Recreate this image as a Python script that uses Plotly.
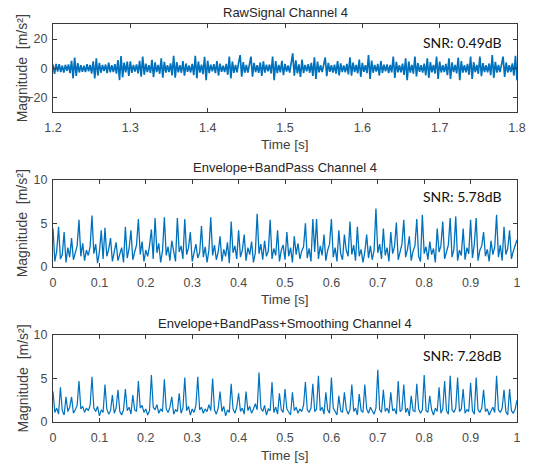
import numpy as np
import plotly.graph_objects as go
from plotly.subplots import make_subplots

# ---------------- data ----------------
raw_t_start, raw_t_end = 1.2, 1.8
raw_signal = [
    2.6, -3.8, 3.1, -2.2, 2.8, -2.5, 1.9, -2.9, 2.4, -1.7, 2.7, -3.2, 5.1, -6.8, 7.3, -5.2, 3.6, -2.8, 2.2, -2.4,
    1.8, -2.6, 2.9, -2.1, 2.4, -3.5, 4.8, -6.8, 6.8, -4.9, 3.7, -3.0, 2.3, -1.9, 2.6, -3.3, 3.9, -2.7, 2.1, -2.5,
    2.8, -3.6, 5.6, -8.0, 8.4, -6.1, 3.9, -2.8, 4.6, -5.1, 4.8, -3.1, 2.4, -2.2, 2.7, -3.4, 5.2, -5.7, 8.0, -4.4,
    3.2, -2.5, 2.2, -3.1, 5.8, -6.0, 4.1, -2.6, 2.3, -3.7, 6.8, -6.4, 4.5, -2.9, 2.2, -2.6, 3.4, -4.8, 8.6, -6.4,
    4.2, -2.7, 2.1, -3.0, 4.9, -5.0, 3.3, -2.4, 1.9, -2.8, 3.1, -4.6, 8.6, -6.8, 4.7, -2.9, 2.6, -3.9, 7.9, -8.0,
    5.2, -3.2, 2.5, -2.1, 2.8, -3.3, 5.0, -4.9, 3.2, -2.3, 1.8, -2.6, 3.0, -4.4, 8.0, -6.8, 4.6, -3.1, 2.4, -2.7,
    3.9, 9.0, -5.7, 4.3, -3.0, 2.3, -2.9, 3.6, 8.0, -5.7, 3.8, -2.6, 2.2, -3.1, 4.0, -5.2, 4.8, -2.9, 2.5, -2.0,
    2.6, -3.4, 8.1, -8.0, 5.0, -3.2, 2.4, -2.8, 5.1, -4.7, 3.1, -2.2, 2.0, -2.9, 4.1, 10.2, -5.0, 5.5, -3.4, 2.7,
    -5.9, 6.0, -3.3, 2.4, -2.1, 2.8, -3.0, 3.7, -5.2, 7.5, -7.2, 4.6, -2.8, 2.2, -2.6, 3.5, 7.4, -5.4, 3.8, -2.4,
    2.1, -2.9, 2.6, -3.6, 5.0, -4.8, 3.4, -2.5, 2.0, -2.7, 3.0, -4.1, 7.6, -5.0, 3.9, -2.6, 2.3, -3.4, 6.0, -5.9,
    3.7, -2.4, 2.2, -3.3, 9.0, -7.2, 5.3, -3.0, 2.4, -2.2, 3.1, -4.9, 5.0, -3.1, 2.5, -2.1, 2.7, -3.2, 2.3, -2.8,
    8.0, -6.6, 4.4, -2.8, 2.2, -2.7, 3.2, -4.5, 6.8, -8.0, 4.7, -2.9, 2.4, -3.6, 8.0, -5.5, 3.6, -2.4, 2.1, -2.9,
    3.3, -4.8, 6.8, -6.6, 4.2, -2.7, 2.3, -3.5, 8.0, -7.2, 4.6, -2.8, 2.2, -2.5, 3.0, -4.6, 6.8, -7.2, 4.1, -2.6,
    2.3, -3.4, 7.3, -8.0, 4.9, -2.9, 2.2, -2.7, 3.1, -4.4, 8.0, -7.2, 4.3, -2.6, 2.4, -3.7, 8.0, -5.4, 3.5, -2.5,
    2.2, -2.8, 3.3, -4.7, 9.0, -6.6, 4.5, -2.9, 2.3, -2.6, 3.2, 8.0, -5.8, 4.0, -2.8, 2.2, -2.6, 3.4, -4.9, 8.5,
    -8.2,
]

env_t_start, env_t_end = 0.0, 1.0
envelope_bandpass = [
    4.4, 0.6, 1.8, 4.6, 0.9, 1.4, 4.0, 0.5, 2.2, 1.1, 3.3, 0.8, 1.6, 2.4, 5.4, 1.2, 2.7, 0.7, 1.9, 1.3,
    2.3, 5.9, 1.5, 2.6, 0.4, 1.7, 4.2, 0.9, 4.5, 1.2, 2.0, 3.3, 0.6, 1.8, 2.8, 0.7, 1.4, 2.2, 0.5, 4.6,
    1.0, 2.1, 4.2, 0.8, 1.7, 2.5, 5.5, 1.4, 2.9, 0.6, 1.9, 1.2, 2.4, 4.3, 0.9, 5.6, 1.6, 2.7, 0.5, 1.8,
    5.7, 1.3, 2.3, 0.7, 3.0, 1.5, 0.6, 5.6, 1.7, 2.4, 0.9, 5.5, 1.4, 2.2, 4.0, 0.6, 1.8, 2.6, 1.0, 1.6,
    4.7, 1.1, 2.3, 0.5, 1.9, 5.7, 1.3, 2.5, 0.8, 1.7, 3.5, 0.6, 2.0, 1.2, 2.8, 0.4, 5.2, 1.6, 2.4, 0.9,
    4.2, 1.1, 1.9, 3.7, 0.7, 2.2, 1.4, 2.9, 0.5, 1.6, 6.1, 1.5, 2.6, 0.8, 3.0, 1.2, 1.8, 5.4, 0.9, 2.1,
    1.3, 4.2, 0.6, 1.9, 2.5, 0.8, 4.0, 1.2, 2.2, 0.5, 3.5, 1.4, 2.7, 0.9, 1.8, 2.3, 5.0, 1.0, 2.1, 0.6,
    5.5, 1.7, 5.5, 0.9, 2.4, 1.3, 3.7, 0.7, 1.9, 2.6, 5.5, 1.1, 2.2, 0.6, 4.2, 1.5, 0.8, 3.7, 1.9, 1.2,
    5.2, 1.4, 2.5, 0.7, 4.6, 1.2, 2.0, 0.5, 1.7, 3.7, 1.0, 2.4, 0.8, 1.9, 6.7, 1.6, 2.6, 0.9, 4.4, 1.3,
    2.2, 0.6, 4.0, 1.5, 2.3, 5.1, 0.8, 1.9, 2.6, 5.4, 1.1, 2.0, 3.5, 0.7, 1.8, 2.4, 5.5, 1.2, 0.6, 6.0,
    1.5, 2.3, 0.8, 2.9, 1.4, 2.1, 0.5, 4.4, 1.7, 2.4, 5.2, 0.9, 1.8, 2.5, 5.6, 1.1, 2.0, 5.8, 0.7, 1.9,
    1.3, 4.4, 0.8, 2.2, 1.5, 5.4, 1.0, 2.6, 5.6, 0.7, 1.9, 2.4, 4.0, 1.2, 2.0, 0.6, 3.0, 1.4, 2.3, 6.0,
    1.1, 2.5, 0.7, 4.6, 1.4, 2.1, 4.2, 0.9, 1.8, 2.6, 3.1,
]

envelope_smoothed = [
    3.5, 1.1, 1.6, 0.9, 4.0, 1.3, 0.8, 2.9, 1.2, 1.7, 2.9, 1.0, 1.4, 1.9, 4.7, 1.5, 1.8, 1.1, 1.6, 1.3,
    1.9, 5.2, 1.6, 1.2, 1.8, 0.7, 1.4, 1.1, 4.3, 1.5, 0.9, 1.3, 3.1, 1.0, 1.6, 3.7, 1.2, 0.8, 1.4, 3.8,
    1.3, 1.7, 0.9, 3.1, 1.4, 1.2, 4.7, 1.6, 1.9, 1.1, 1.5, 0.8, 1.3, 5.4, 1.7, 1.4, 2.0, 1.0, 1.5, 1.2,
    4.9, 1.5, 1.1, 1.7, 2.9, 0.9, 1.4, 1.2, 3.3, 1.0, 1.6, 5.1, 1.3, 1.8, 0.8, 1.5, 1.1, 1.9, 5.2, 1.4,
    1.7, 1.0, 1.5, 1.2, 2.0, 1.3, 5.0, 1.4, 0.9, 1.6, 3.5, 1.2, 1.8, 0.7, 1.4, 1.1, 4.4, 1.5, 1.0, 1.7,
    3.3, 1.2, 1.6, 0.9, 3.5, 1.3, 1.8, 1.0, 1.5, 2.1, 1.4, 5.7, 1.6, 1.2, 1.9, 0.8, 1.5, 1.3, 4.6, 1.1,
    1.7, 0.9, 3.3, 1.4, 1.1, 3.8, 1.5, 1.2, 0.8, 3.4, 1.3, 1.7, 1.0, 1.5, 1.2, 1.9, 4.6, 1.4, 1.1, 1.6,
    4.4, 1.2, 1.5, 5.3, 1.3, 1.7, 0.9, 3.4, 1.4, 1.0, 5.1, 1.6, 1.2, 0.8, 3.0, 1.3, 1.1, 3.4, 1.5, 0.9,
    1.4, 4.3, 1.2, 1.6, 0.8, 3.2, 1.3, 1.1, 4.3, 1.5, 1.0, 1.7, 1.3, 0.9, 1.6, 6.0, 1.4, 1.1, 3.7, 1.2,
    1.6, 1.0, 3.4, 1.3, 1.5, 0.9, 4.7, 1.2, 1.4, 4.3, 1.1, 1.6, 0.7, 3.0, 1.3, 1.2, 4.4, 1.5, 1.0, 1.4,
    5.4, 1.3, 1.1, 3.0, 1.4, 0.8, 1.6, 1.2, 4.0, 1.0, 1.5, 4.7, 1.3, 0.9, 5.3, 1.4, 1.1, 1.6, 5.1, 1.2,
    1.5, 3.8, 1.0, 1.4, 1.2, 4.5, 1.3, 0.9, 5.1, 1.4, 1.1, 1.6, 3.7, 1.2, 1.5, 0.8, 1.3, 1.7, 1.1, 5.3,
    1.4, 1.1, 1.6, 3.7, 1.2, 0.8, 3.8, 1.3, 1.0, 1.5, 2.5,
]

titles = ["RawSignal Channel 4", "Envelope+BandPass Channel 4",
          "Envelope+BandPass+Smoothing Channel 4"]
snr_labels = ["SNR: 0.49dB", "SNR: 5.78dB", "SNR: 7.28dB"]
raw_xticks = [1.2, 1.3, 1.4, 1.5, 1.6, 1.7, 1.8]
env_xticks = [0, 0.1, 0.2, 0.3, 0.4, 0.5, 0.6, 0.7, 0.8, 0.9, 1]
raw_yticks = [-20, 0, 20]
env_yticks = [0, 5, 10]

# ---------------- figure ----------------
W, H = 536, 465
ML, MR = 53, 19
PW = W - ML - MR

def px_y(py):
    return 1 - py / H

def px_x(px):
    return (px - ML) / PW

t_raw = np.linspace(raw_t_start, raw_t_end, len(raw_signal))
t_env = np.linspace(env_t_start, env_t_end, len(envelope_bandpass))
t_smo = np.linspace(env_t_start, env_t_end, len(envelope_smoothed))

fig = make_subplots(rows=3, cols=1)
line_color = "#0072BD"
fig.add_trace(go.Scatter(x=t_raw, y=raw_signal, mode="lines",
                         line=dict(color=line_color, width=1.7)), row=1, col=1)
fig.add_trace(go.Scatter(x=t_env, y=envelope_bandpass, mode="lines",
                         line=dict(color=line_color, width=1.3)), row=2, col=1)
fig.add_trace(go.Scatter(x=t_smo, y=envelope_smoothed, mode="lines",
                         line=dict(color=line_color, width=1.2)), row=3, col=1)

domains = [(112.3, 24.4), (266.7, 180.0), (422.0, 335.0)]
axis_color = "#3a3a3a"
tick_font = dict(family="Liberation Sans, Arial", size=12.5, color="#4a4a4a")
for i, (b, t) in enumerate(domains):
    sfx = "" if i == 0 else str(i + 1)
    if i == 0:
        xr, xt, yr, yt = [1.2, 1.8], raw_xticks, [-30, 30], raw_yticks
    else:
        xr, xt, yr, yt = [0, 1], env_xticks, [0, 10], env_yticks
    fig.layout["xaxis" + sfx].update(
        domain=[0, 1], range=xr, tickvals=xt, ticktext=[f"{v:g}" for v in xt],
        showline=True, linecolor=axis_color, linewidth=1, mirror="ticks",
        ticks="inside", ticklen=4, tickcolor=axis_color, showgrid=False,
        zeroline=False, tickfont=tick_font, automargin=False, ticklabelstandoff=4)
    fig.layout["yaxis" + sfx].update(
        domain=[px_y(b), px_y(t)], range=yr, tickvals=yt,
        showline=True, linecolor=axis_color, linewidth=1, mirror="ticks",
        ticks="inside", ticklen=4, tickcolor=axis_color, showgrid=False,
        zeroline=False, tickfont=tick_font, automargin=False, ticklabelstandoff=2)

title_font = dict(family="Liberation Sans, Arial", size=13, color="#262626")
label_font = dict(family="Liberation Sans, Arial", size=13.5, color="#404040")
ylabel_font = dict(family="Liberation Sans, Arial", size=14, color="#404040")
snr_font = dict(family="Lato, Open Sans", size=14, color="#111111")
title_y = [13, 167, 323]
time_y = [145, 299, 455]
snr_y = [42, 196, 355]
for i in range(3):
    b, t = domains[i]
    fig.add_annotation(text=titles[i], xref="paper", yref="paper",
                       x=0.5, y=px_y(title_y[i]), xanchor="center", yanchor="middle",
                       showarrow=False, font=title_font)
    fig.add_annotation(text="Time [s]", xref="paper", yref="paper",
                       x=0.5, y=px_y(time_y[i]), xanchor="center", yanchor="middle",
                       showarrow=False, font=label_font)
    fig.add_annotation(text="Magnitude\u00a0 [m/s²]", xref="paper", yref="paper",
                       x=px_x(22), y=px_y((b + t) / 2), xanchor="center", yanchor="middle",
                       textangle=-90, showarrow=False, font=ylabel_font)
    fig.add_annotation(text=snr_labels[i], xref="paper", yref="paper",
                       x=px_x(504), y=px_y(snr_y[i]), xanchor="right", yanchor="middle",
                       showarrow=False, font=snr_font)

fig.update_layout(width=W, height=H, showlegend=False,
                  margin=dict(l=ML, r=MR, t=0, b=0, pad=0),
                  paper_bgcolor="white", plot_bgcolor="white")

fig.write_html("out.html")
